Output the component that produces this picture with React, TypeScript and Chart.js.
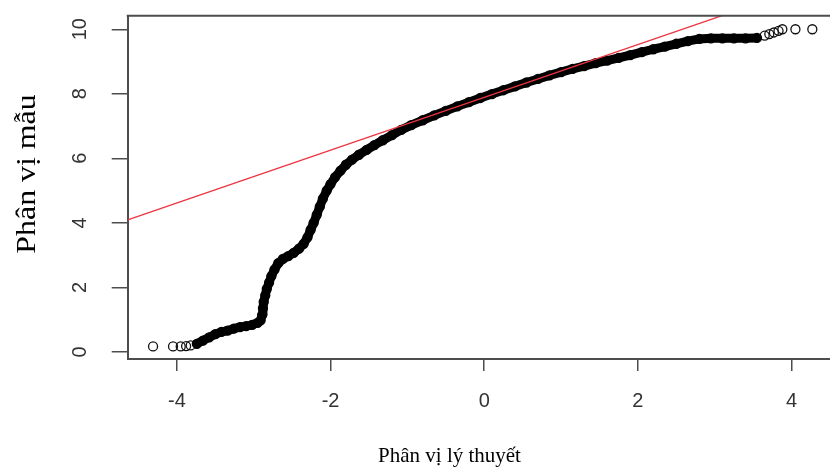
import React, { useEffect, useRef } from 'react';
import { Chart, registerables } from 'chart.js';

Chart.register(...registerables);

// Axis tick values
const xTicks = [-4, -2, 0, 2, 4];
const yTicks = [0, 2, 4, 6, 8, 10];

// Axis ranges (data units)
const xRange = [-4.64, 4.5];
const yRange = [-0.22, 10.42];

// Titles
const xTitle = 'Phân vị lý thuyết';
const yTitle = 'Phân vị mẫu';

// Dense part of the normal Q-Q plot (theoretical quantile, sample quantile)
const bandX = [
  -3.74, -3.66, -3.58, -3.5, -3.42, -3.34, -3.26, -3.18, -3.1, -3.02,
  -2.95, -2.91, -2.89, -2.88, -2.87, -2.85, -2.83, -2.8, -2.77, -2.73,
  -2.68, -2.62, -2.55, -2.48, -2.41, -2.35, -2.3, -2.26, -2.22, -2.18,
  -2.14, -2.1, -2.05, -2.0, -1.94, -1.87, -1.8, -1.72, -1.63, -1.53,
  -1.43, -1.32, -1.2, -1.08, -0.95, -0.8, -0.65, -0.5, -0.35, -0.2,
  -0.05, 0.1, 0.25, 0.4, 0.55, 0.7, 0.85, 1.0, 1.15, 1.3,
  1.45, 1.6, 1.75, 1.9, 2.05, 2.2, 2.35, 2.5, 2.65, 2.8,
  2.95, 3.1, 3.25, 3.4, 3.55,
];
const bandY = [
  0.25, 0.35, 0.45, 0.55, 0.62, 0.66, 0.72, 0.77, 0.8, 0.84,
  0.9, 0.98, 1.15, 1.35, 1.55, 1.75, 1.95, 2.15, 2.35, 2.55,
  2.75, 2.88, 2.97, 3.07, 3.2, 3.35, 3.55, 3.78, 4.0, 4.25,
  4.5, 4.75, 5.0, 5.2, 5.42, 5.62, 5.8, 5.96, 6.11, 6.26,
  6.41, 6.56, 6.72, 6.88, 7.03, 7.18, 7.33, 7.47, 7.61, 7.74,
  7.87, 7.99, 8.11, 8.23, 8.35, 8.46, 8.57, 8.67, 8.77, 8.86,
  8.95, 9.03, 9.11, 9.2, 9.29, 9.38, 9.46, 9.55, 9.63, 9.7,
  9.72, 9.72, 9.72, 9.72, 9.73,
];

// Isolated points in both tails
const tailX = [-4.31, -4.05, -3.95, -3.88, -3.82, 3.65, 3.71, 3.77, 3.83, 3.88, 4.05, 4.27];
const tailY = [0.17, 0.17, 0.17, 0.18, 0.2, 9.8, 9.85, 9.9, 9.95, 10.0, 10.0, 10.0];

// Reference line (qqline): intercept and slope
const qqIntercept = 7.89;
const qqSlope = 0.818;

const AXIS_COLOR = '#4d4d4d';

const framePlugin = {
  id: 'frameAndTitles',
  afterDraw(chart: any) {
    const { ctx, chartArea: a } = chart;
    ctx.save();
    ctx.strokeStyle = AXIS_COLOR;
    ctx.lineWidth = 2;
    ctx.beginPath();
    ctx.moveTo(a.left - 1, a.top);
    ctx.lineTo(a.right, a.top);
    ctx.stroke();

    ctx.fillStyle = '#000';
    ctx.textAlign = 'center';
    ctx.textBaseline = 'alphabetic';
    ctx.font = '21px "Liberation Serif", "Times New Roman", serif';
    ctx.fillText(xTitle, 449.5, 462);

    ctx.translate(35, 174);
    ctx.rotate(-Math.PI / 2);
    ctx.scale(1.18, 1);
    ctx.font = '27px "Liberation Serif", "Times New Roman", serif';
    ctx.fillText(yTitle, 0, 0);
    ctx.restore();
  },
};

export default function App() {
  const ref = useRef<HTMLCanvasElement | null>(null);

  useEffect(() => {
    if (!ref.current) return;
    const tickFont = { family: '"Liberation Sans", Arial, sans-serif', size: 20 };
    const chart = new Chart(ref.current, {
      type: 'scatter',
      data: {
        datasets: [
          {
            label: 'qqline',
            data: xRange.map((x) => ({ x, y: qqIntercept + qqSlope * x })),
            showLine: true,
            borderColor: '#ee3340',
            borderWidth: 1.3,
            pointRadius: 0,
          },
          {
            label: 'band',
            data: bandX.map((x, i) => ({ x, y: bandY[i] })),
            showLine: true,
            borderColor: '#000',
            borderWidth: 9,
            borderJoinStyle: 'round',
            borderCapStyle: 'round',
            pointRadius: 4.5,
            pointBorderWidth: 1.3,
            pointBorderColor: '#000',
            pointBackgroundColor: 'rgba(0,0,0,0)',
          },
          {
            label: 'tails',
            data: tailX.map((x, i) => ({ x, y: tailY[i] })),
            showLine: false,
            pointRadius: 4.5,
            pointBorderWidth: 1.3,
            pointBorderColor: '#111',
            pointBackgroundColor: 'rgba(0,0,0,0)',
          },
        ],
      } as any,
      options: {
        animation: false,
        responsive: false,
        maintainAspectRatio: false,
        layout: { autoPadding: false, padding: { top: 15.7, right: 0, bottom: 0, left: 0 } },
        plugins: { legend: { display: false }, tooltip: { enabled: false } },
        scales: {
          x: {
            type: 'linear',
            min: xRange[0],
            max: xRange[1],
            afterBuildTicks: (s: any) => {
              s.ticks = xTicks.map((v) => ({ value: v }));
            },
            afterFit: (s: any) => {
              s.height = 111;
              s.paddingLeft = 0;
              s.paddingRight = 0;
              s.paddingTop = 0;
              s.paddingBottom = 0;
            },
            grid: { drawOnChartArea: false, drawTicks: true, tickLength: 12, color: AXIS_COLOR, lineWidth: 1.5 },
            border: { display: true, color: AXIS_COLOR, width: 2 },
            ticks: {
              font: tickFont,
              color: '#333',
              padding: 18.7,
              minRotation: 0,
              maxRotation: 0,
              autoSkip: false,
              callback: (v: any) => String(v),
            },
          },
          y: {
            type: 'linear',
            min: yRange[0],
            max: yRange[1],
            afterBuildTicks: (s: any) => {
              s.ticks = yTicks.map((v) => ({ value: v }));
            },
            afterFit: (s: any) => {
              s.width = 127.7;
              s.paddingLeft = 0;
              s.paddingRight = 0;
              s.paddingTop = 0;
              s.paddingBottom = 0;
            },
            grid: { drawOnChartArea: false, drawTicks: true, tickLength: 16, color: AXIS_COLOR, lineWidth: 1.5 },
            border: { display: true, color: AXIS_COLOR, width: 2 },
            ticks: {
              font: tickFont,
              color: '#333',
              padding: 19.6,
              minRotation: 90,
              maxRotation: 90,
              crossAlign: 'center',
              autoSkip: false,
              callback: (v: any) => String(v),
            },
          },
        },
      } as any,
      plugins: [framePlugin],
    });
    return () => chart.destroy();
  }, []);

  return (
    <div style={{ position: 'fixed', left: 0, top: 0, width: 830, height: 470, background: '#fff' }}>
      <canvas ref={ref} width={830} height={470} style={{ display: 'block' }} />
    </div>
  );
}
